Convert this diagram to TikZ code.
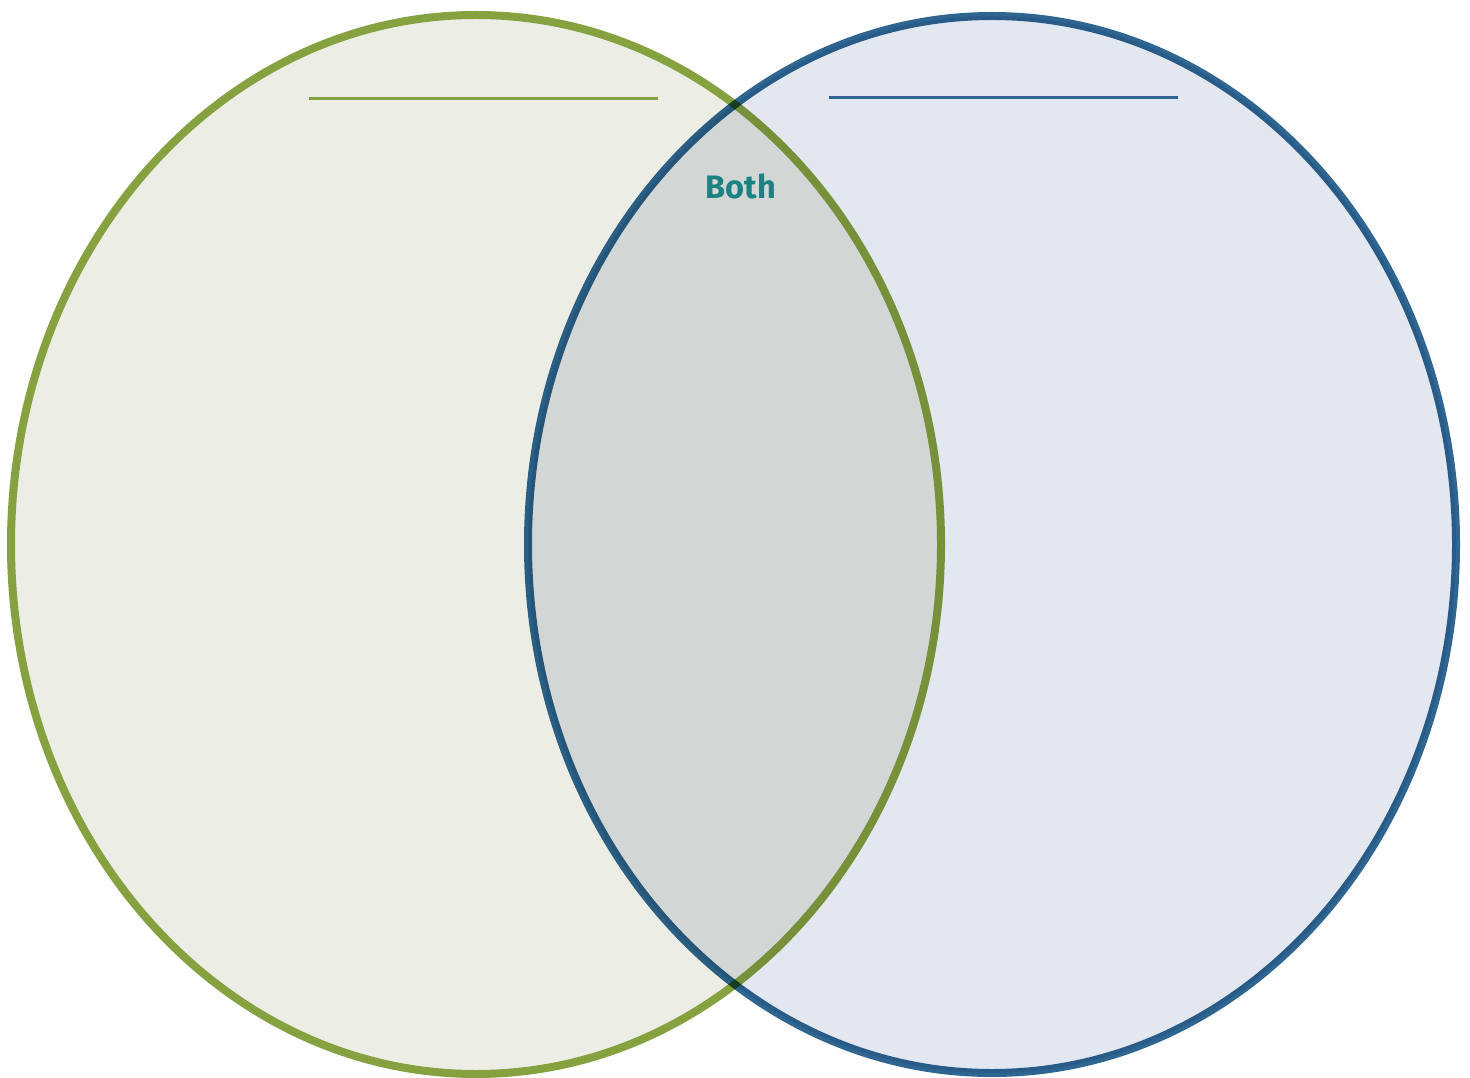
\documentclass[tikz,border=0pt]{standalone}
\usepackage{fontspec}
\newfontfamily\bothfont{Fira Sans}
\definecolor{gstroke}{HTML}{86A140}
\definecolor{gfill}{HTML}{ECEEE5}
\definecolor{bstroke}{HTML}{2E6591}
\definecolor{bfill}{HTML}{E3E7EF}
\definecolor{teal}{HTML}{1A8282}
\tikzset{
  ring/.style={line width=8pt},
  titleline/.style={line width=2.5pt}
}
\begin{document}
\begin{tikzpicture}[x=1pt,y=-1pt]
\useasboundingbox (0,0) rectangle (1470,1078);
\draw[ring, draw=gstroke, fill=gfill] (476,544.5) ellipse [x radius=465, y radius=529.5];
\begin{scope}[blend mode=multiply]
\draw[ring, draw=bstroke, fill=bfill] (992,544.5) ellipse [x radius=464, y radius=528.5];
\end{scope}
\coordinate (gl1) at (309,98.5);
\coordinate (gl2) at (658,98.5);
\coordinate (bl1) at (829,97.3);
\coordinate (bl2) at (1178,97.3);
\draw[titleline, gstroke] (gl1) -- (gl2);
\draw[titleline, bstroke] (bl1) -- (bl2);
\node[font=\bothfont\bfseries\fontsize{32.5}{38}\selectfont, text=teal, anchor=base, inner sep=0pt] (both) at (741,199) {Both};
\end{tikzpicture}
\end{document}
